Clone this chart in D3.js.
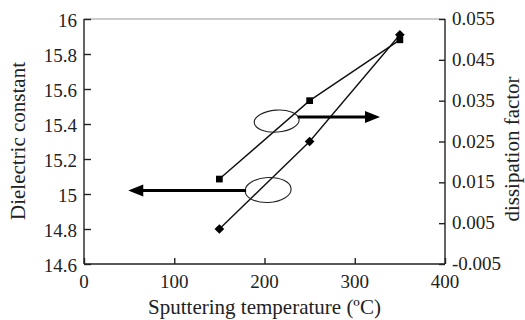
<!DOCTYPE html>
<html>
<head>
<meta charset="utf-8">
<script src="https://cdn.jsdelivr.net/npm/d3@7"></script>
<style>
  body { margin: 0; background: #fff; }
</style>
</head>
<body>
<div id="chart"></div>
<script>
// data
var temps = [150, 250, 350];
var dielectric = [14.8, 15.3, 15.91];      // left axis, diamonds
var dissipation = [0.0158, 0.0350, 0.0499]; // right axis, squares

var xTicks = [0, 100, 200, 300, 400];
var leftTicks = [14.6, 14.8, 15, 15.2, 15.4, 15.6, 15.8, 16];
var rightTicks = [-0.005, 0.005, 0.015, 0.025, 0.035, 0.045, 0.055];

var width = 525, height = 320;
var margin = {top: 19, right: 80, bottom: 56, left: 84};
var serif = "'Liberation Serif', 'Times New Roman', Times, serif";

var svg = d3.select("#chart").append("svg")
    .attr("width", width)
    .attr("height", height)
    .style("font-family", serif);

var x = d3.scaleLinear().domain([0, 400]).range([margin.left, width - margin.right]);
var yL = d3.scaleLinear().domain([14.6, 16]).range([height - margin.bottom, margin.top]);
var yR = d3.scaleLinear().domain([-0.005, 0.055]).range([height - margin.bottom, margin.top]);

var x0 = x(0), x1 = x(400), yb = yL(14.6), yt = yL(16);

// gray top border
svg.append("line").attr("x1", x0).attr("x2", x1).attr("y1", yt).attr("y2", yt)
    .attr("stroke", "#999").attr("stroke-width", 1);

// left axis, ticks point inward
var gL = svg.append("g").attr("transform", "translate(" + x0 + ",0)")
    .call(d3.axisRight(yL).tickValues(leftTicks).tickSize(7).tickFormat(""));
gL.selectAll("line, path").attr("stroke", "#222").attr("stroke-width", 1.4);
gL.select(".domain").attr("d", "M0," + yt + "V" + yb);
svg.selectAll(".ltick").data(leftTicks).enter().append("text")
    .attr("class", "ltick")
    .attr("x", x0 - 7)
    .attr("y", function(d) { return yL(d) + 8; })
    .attr("text-anchor", "end")
    .attr("font-family", serif)
    .attr("font-size", 19)
    .attr("fill", "#222")
    .text(function(d) { return d3.format("")(d); });

// right axis
var gR = svg.append("g").attr("transform", "translate(" + x1 + ",0)")
    .call(d3.axisLeft(yR).tickValues(rightTicks).tickSize(6).tickFormat(""));
gR.selectAll("line, path").attr("stroke", "#222").attr("stroke-width", 1.4);
gR.select(".domain").attr("d", "M0," + yt + "V" + yb);
svg.selectAll(".rtick").data(rightTicks).enter().append("text")
    .attr("class", "rtick")
    .attr("x", x1 + 7)
    .attr("y", function(d) { return yR(d) + 6; })
    .attr("text-anchor", "start")
    .attr("font-family", serif)
    .attr("font-size", 19)
    .attr("fill", "#222")
    .text(function(d) { return d3.format(".3f")(d).replace("−", "-"); });

// bottom axis
var gB = svg.append("g").attr("transform", "translate(0," + yb + ")")
    .call(d3.axisTop(x).tickValues(xTicks).tickSize(6).tickFormat(""));
gB.selectAll("line, path").attr("stroke", "#222").attr("stroke-width", 1.4);
gB.select(".domain").attr("d", "M" + x0 + ",0H" + x1);
svg.selectAll(".xtick").data(xTicks).enter().append("text")
    .attr("class", "xtick")
    .attr("x", function(d) { return x(d); })
    .attr("y", yb + 24)
    .attr("text-anchor", "middle")
    .attr("font-family", serif)
    .attr("font-size", 19)
    .attr("fill", "#222")
    .text(function(d) { return d; });

// axis titles
svg.append("text")
    .attr("x", (x0 + x1) / 2)
    .attr("y", 314)
    .attr("text-anchor", "middle")
    .attr("font-family", serif)
    .attr("font-size", 21)
    .attr("fill", "#222")
    .text("Sputtering temperature (ºC)");
svg.append("text")
    .attr("transform", "translate(25,141) rotate(-90)")
    .attr("text-anchor", "middle")
    .attr("font-family", serif)
    .attr("font-size", 21)
    .attr("fill", "#222")
    .text("Dielectric constant");
svg.append("text")
    .attr("transform", "translate(519,149) rotate(-90)")
    .attr("text-anchor", "middle")
    .attr("font-family", serif)
    .attr("font-size", 21)
    .attr("fill", "#222")
    .text("dissipation factor");

// series lines
var lineL = d3.line().x(function(d, i) { return x(temps[i]); }).y(function(d) { return yL(d); });
var lineR = d3.line().x(function(d, i) { return x(temps[i]); }).y(function(d) { return yR(d); });

svg.append("path").datum(dielectric).attr("d", lineL)
    .attr("fill", "none").attr("stroke", "#111").attr("stroke-width", 1.4);
svg.append("path").datum(dissipation).attr("d", lineR)
    .attr("fill", "none").attr("stroke", "#111").attr("stroke-width", 1.4);

// markers
svg.selectAll(".dia").data(dielectric).enter().append("path")
    .attr("class", "dia")
    .attr("transform", function(d, i) { return "translate(" + x(temps[i]) + "," + yL(d) + ")"; })
    .attr("d", d3.symbol().type(d3.symbolDiamond2).size(60))
    .attr("fill", "#000");
svg.selectAll(".sq").data(dissipation).enter().append("path")
    .attr("class", "sq")
    .attr("transform", function(d, i) { return "translate(" + x(temps[i]) + "," + yR(d) + ")"; })
    .attr("d", d3.symbol().type(d3.symbolSquare).size(45))
    .attr("fill", "#000");

// annotation arrows
function arrow(xa, xb, ya) {
    var dir = xb > xa ? 1 : -1;
    svg.append("line")
        .attr("x1", xa).attr("y1", ya).attr("x2", xb - dir * 12).attr("y2", ya)
        .attr("stroke", "#000").attr("stroke-width", 2.8);
    svg.append("path")
        .attr("d", "M" + xb + "," + ya + "L" + (xb - dir * 15) + "," + (ya - 6) +
            "L" + (xb - dir * 15) + "," + (ya + 6) + "Z")
        .attr("fill", "#000");
}

// upper ellipse (dissipation -> right axis)
var ue = {cx: x(213.5), cy: yR(0.030)};
svg.append("ellipse").attr("cx", ue.cx).attr("cy", ue.cy).attr("rx", 22.5).attr("ry", 11)
    .attr("transform", "rotate(-4," + ue.cx + "," + ue.cy + ")")
    .attr("fill", "none").attr("stroke", "#222").attr("stroke-width", 1.1);
arrow(ue.cx + 21, x(328), yR(0.031));

// lower ellipse (dielectric -> left axis)
var le = {cx: x(204), cy: yL(15.023)};
svg.append("ellipse").attr("cx", le.cx).attr("cy", le.cy).attr("rx", 23).attr("ry", 12.5)
    .attr("transform", "rotate(-3," + le.cx + "," + le.cy + ")")
    .attr("fill", "none").attr("stroke", "#222").attr("stroke-width", 1.1);
arrow(le.cx - 22, x(49), yL(15.02));
</script>
</body>
</html>
